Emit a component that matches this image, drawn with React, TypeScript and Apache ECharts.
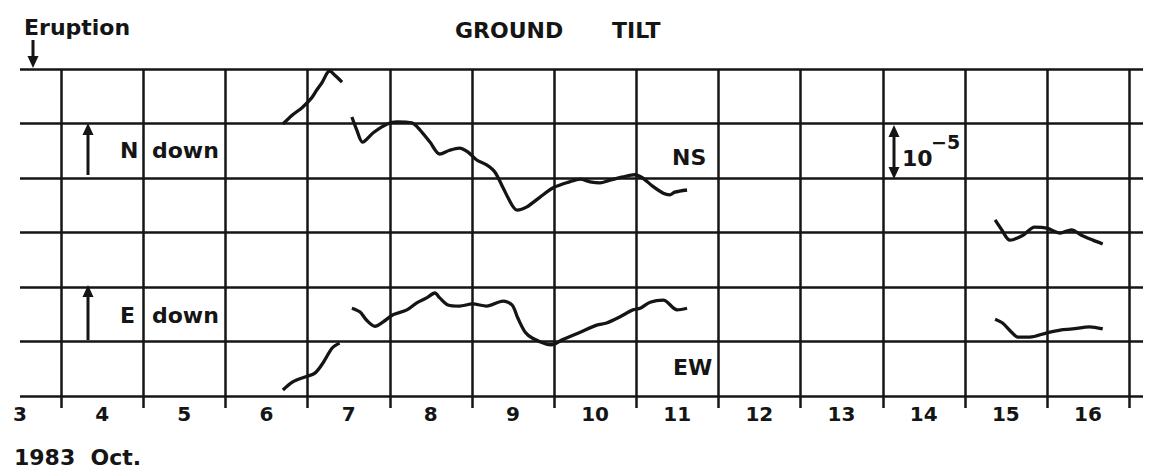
import React, { useEffect, useRef } from "react";
import * as echarts from "echarts";

// Days of October 1983 shown under the axis
const dayLabels: number[] = [3, 4, 5, 6, 7, 8, 9, 10, 11, 12, 13, 14, 15, 16];
// Day boundaries (vertical grid lines), offset from day 3.5
const dayBoundaries: number[] = [0, 1, 2, 3, 4, 5, 6, 7, 8, 9, 10, 11, 12, 13];

// Tilt values in grid units (1 unit = 10^-5), x = day of October
const nsPart1: [number, number][] = [
  [6.2, 4.99], [6.32, 5.16], [6.44, 5.3], [6.55, 5.47], [6.61, 5.61], [6.68, 5.76],
  [6.74, 5.93], [6.77, 5.96], [6.83, 5.89], [6.92, 5.76],
];
const nsPart2: [number, number][] = [
  [7.04, 5.12], [7.1, 4.88], [7.17, 4.66], [7.3, 4.83], [7.47, 4.99], [7.59, 5.03],
  [7.77, 5.01], [7.87, 4.88], [7.99, 4.66], [8.11, 4.44], [8.23, 4.51], [8.35, 4.55],
  [8.45, 4.48], [8.56, 4.33], [8.68, 4.24], [8.78, 4.11], [8.88, 3.82], [8.99, 3.5],
  [9.05, 3.41], [9.17, 3.47], [9.33, 3.65], [9.49, 3.82], [9.69, 3.93], [9.82, 3.98],
  [9.94, 3.93], [10.06, 3.91], [10.18, 3.96], [10.34, 4.02], [10.48, 4.06], [10.58, 4.0],
  [10.7, 3.85], [10.83, 3.72], [10.91, 3.69], [10.97, 3.74], [11.12, 3.78],
];
const nsPart3: [number, number][] = [
  [14.87, 3.23], [14.95, 3.05], [15.05, 2.86], [15.21, 2.95], [15.35, 3.1], [15.5, 3.08],
  [15.66, 2.99], [15.8, 3.05], [15.92, 2.95], [16.06, 2.86], [16.18, 2.79],
];
const ewPart1: [number, number][] = [
  [6.2, 0.11], [6.32, 0.26], [6.47, 0.35], [6.59, 0.42], [6.69, 0.61], [6.8, 0.88], [6.89, 0.97],
];
const ewPart2: [number, number][] = [
  [7.04, 1.61], [7.14, 1.54], [7.22, 1.39], [7.32, 1.28], [7.42, 1.36], [7.54, 1.49],
  [7.71, 1.58], [7.83, 1.71], [7.95, 1.8], [8.05, 1.89], [8.11, 1.8], [8.21, 1.67],
  [8.35, 1.65], [8.51, 1.69], [8.68, 1.65], [8.88, 1.74], [8.99, 1.67], [9.06, 1.43],
  [9.15, 1.17], [9.24, 1.06], [9.41, 0.95], [9.47, 0.94], [9.6, 1.03], [9.82, 1.17],
  [10.02, 1.3], [10.14, 1.34], [10.3, 1.45], [10.46, 1.58], [10.55, 1.61], [10.67, 1.72],
  [10.83, 1.76], [11.0, 1.58], [11.12, 1.61],
];
const ewPart3: [number, number][] = [
  [14.87, 1.41], [14.96, 1.34], [15.07, 1.17], [15.15, 1.08], [15.29, 1.08], [15.5, 1.16],
  [15.66, 1.21], [15.81, 1.23], [16.02, 1.27], [16.18, 1.23],
];

const INK = "#151515";
const FONT = "'DejaVu Sans', 'Liberation Sans', sans-serif";

function arrow(x: number, yTail: number, yTip: number) {
  const dir = yTip < yTail ? -1 : 1;
  const headLen = 12;
  const baseY = yTip - dir * headLen;
  return [
    { type: "line", shape: { x1: x, y1: yTail, x2: x, y2: baseY }, style: { stroke: INK, lineWidth: 3 } },
    {
      type: "polygon",
      shape: { points: [[x - 5.5, baseY], [x + 5.5, baseY], [x, yTip]] },
      style: { fill: INK },
    },
  ];
}

function txt(text: string, x: number, y: number, size = 22) {
  return {
    type: "text",
    x,
    y,
    style: {
      text,
      fill: INK,
      font: `bold ${size}px ${FONT}`,
      verticalAlign: "middle",
      align: "left",
    },
  };
}

export default function App() {
  const ref = useRef<HTMLDivElement>(null);
  useEffect(() => {
    if (!ref.current) return;
    const chart = echarts.init(ref.current, undefined, { renderer: "svg" });
    const lineSeries = (name: string, data: [number, number][]) => ({
      name,
      type: "line",
      xAxisIndex: 0,
      yAxisIndex: 0,
      data,
      showSymbol: false,
      smooth: 0.3,
      lineStyle: { color: INK, width: 3.3 },
    });
    const scaleTop = 125;
    const scaleBot = 179;
    chart.setOption({
      animation: false,
      backgroundColor: "#ffffff",
      grid: [
        { left: 20, right: 7, top: 69, bottom: 74 },
        { left: 61.1, right: 20.7, top: 69, bottom: 74 },
      ],
      xAxis: [
        {
          type: "value",
          gridIndex: 0,
          min: 3,
          max: 16.67,
          interval: 1,
          axisLine: { show: false },
          axisTick: { show: false },
          splitLine: { show: false },
          axisLabel: {
            showMaxLabel: false,
            color: INK,
            fontFamily: FONT,
            fontWeight: "bold",
            fontSize: 20,
            margin: 8,
            formatter: (v: number) => (dayLabels.includes(v) ? String(v) : ""),
          },
        },
        {
          type: "value",
          gridIndex: 1,
          min: dayBoundaries[0],
          max: dayBoundaries[dayBoundaries.length - 1],
          interval: 1,
          axisLine: { show: false },
          axisTick: { show: true, length: 12, lineStyle: { color: INK, width: 2.5 } },
          axisLabel: { show: false },
          splitLine: { show: true, lineStyle: { color: INK, width: 2.5 } },
        },
      ],
      yAxis: [
        {
          type: "value",
          gridIndex: 0,
          min: 0,
          max: 6,
          interval: 1,
          axisLine: { show: false },
          axisTick: { show: false },
          axisLabel: { show: false },
          splitLine: { show: true, lineStyle: { color: INK, width: 2.5 } },
        },
        {
          type: "value",
          gridIndex: 1,
          min: 0,
          max: 6,
          interval: 1,
          show: false,
        },
      ],
      series: [
        lineSeries("NS a", nsPart1),
        lineSeries("NS b", nsPart2),
        lineSeries("NS c", nsPart3),
        lineSeries("EW a", ewPart1),
        lineSeries("EW b", ewPart2),
        lineSeries("EW c", ewPart3),
      ],
      graphic: [
        txt("Eruption", 24, 27),
        ...arrow(33, 40, 68),
        txt("GROUND", 455, 30),
        txt("TILT", 612, 30),
        txt("N", 120, 150),
        txt("down", 152, 150),
        ...arrow(88, 175, 123),
        txt("E", 120, 315),
        txt("down", 152, 315),
        ...arrow(88, 340, 285),
        txt("NS", 672, 157),
        txt("EW", 673, 367),
        { type: "line", shape: { x1: 894, y1: scaleTop + 10, x2: 894, y2: scaleBot - 10 }, style: { stroke: INK, lineWidth: 3 } },
        { type: "polygon", shape: { points: [[888.5, scaleTop + 12], [899.5, scaleTop + 12], [894, scaleTop]] }, style: { fill: INK } },
        { type: "polygon", shape: { points: [[888.5, scaleBot - 12], [899.5, scaleBot - 12], [894, scaleBot]] }, style: { fill: INK } },
        txt("10", 902, 158),
        txt("−5", 931, 142, 19),
        txt("1983  Oct.", 14, 457),
      ],
    });
    return () => chart.dispose();
  }, []);
  return (
    <div
      ref={ref}
      style={{ position: "fixed", left: 0, top: 0, width: 1150, height: 470, background: "#fff" }}
    />
  );
}
